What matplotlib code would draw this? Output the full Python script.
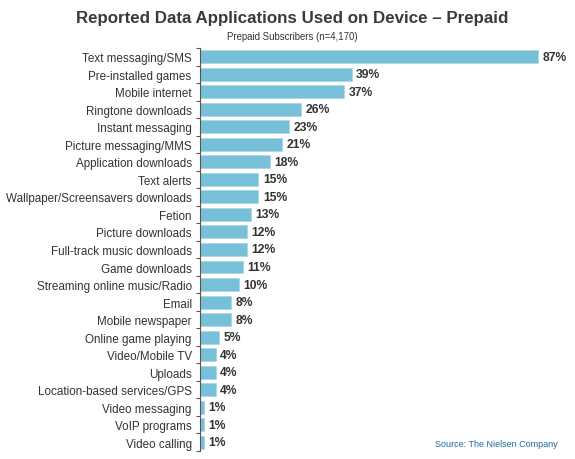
import matplotlib
matplotlib.use("Agg")
import matplotlib.pyplot as plt
import numpy as np

plt.rcParams['font.family'] = ['Liberation Sans', 'DejaVu Sans']

categories = [
    "Text messaging/SMS", "Pre-installed games", "Mobile internet",
    "Ringtone downloads", "Instant messaging", "Picture messaging/MMS",
    "Application downloads", "Text alerts", "Wallpaper/Screensavers downloads",
    "Fetion", "Picture downloads", "Full-track music downloads",
    "Game downloads", "Streaming online music/Radio", "Email",
    "Mobile newspaper", "Online game playing", "Video/Mobile TV",
    "Uploads", "Location-based services/GPS", "Video messaging",
    "VoIP programs", "Video calling",
]
values = [87, 39, 37, 26, 23, 21, 18, 15, 15, 13, 12, 12, 11, 10, 8, 8,
          5, 4, 4, 4, 1, 1, 1]

bar_color = "#78bfd8"
text_color = "#333333"

fig = plt.figure(figsize=(5.75, 4.6), dpi=100)
ax = fig.add_axes([0.3478, 0.0174, 0.6218, 0.8761])

y = np.arange(len(categories))
ax.barh(y, values, height=0.74, color=bar_color, edgecolor="#a8d6e6",
        linewidth=0.6)
for yi, v in zip(y, values):
    ax.text(v + 1.2, yi, f"{v}%", va="center", ha="left", fontsize=8.7,
            fontweight="bold", color=text_color)

ax.set_xlim(0, 92)
ax.set_ylim(len(categories) - 0.5, -0.5)
ax.set_yticks(y)
ax.set_yticklabels(categories, fontsize=8.4, color=text_color)
ax.set_yticks(np.arange(len(categories) + 1) - 0.5, minor=True)
ax.tick_params(axis="y", which="major", length=0, pad=6)
ax.tick_params(axis="y", which="minor", length=3, width=0.8,
               color="#555555", direction="out")
ax.set_xticks([])
for side in ["top", "right", "bottom"]:
    ax.spines[side].set_visible(False)
ax.spines["left"].set_color("#555555")
ax.spines["left"].set_linewidth(0.8)

fig.text(0.508, 0.95, "Reported Data Applications Used on Device \u2013 Prepaid",
         ha="center", va="baseline", fontsize=12.2, fontweight="bold",
         color="#3a3a3a")
fig.text(0.508, 0.913, "Prepaid Subscribers (n=4,170)", ha="center",
         va="baseline", fontsize=6.9, color=text_color)
fig.text(0.97, 0.028, "Source: The Nielsen Company", ha="right",
         va="baseline", fontsize=6.5, color="#1f6aa0")

fig.savefig("out.png", dpi=100)
